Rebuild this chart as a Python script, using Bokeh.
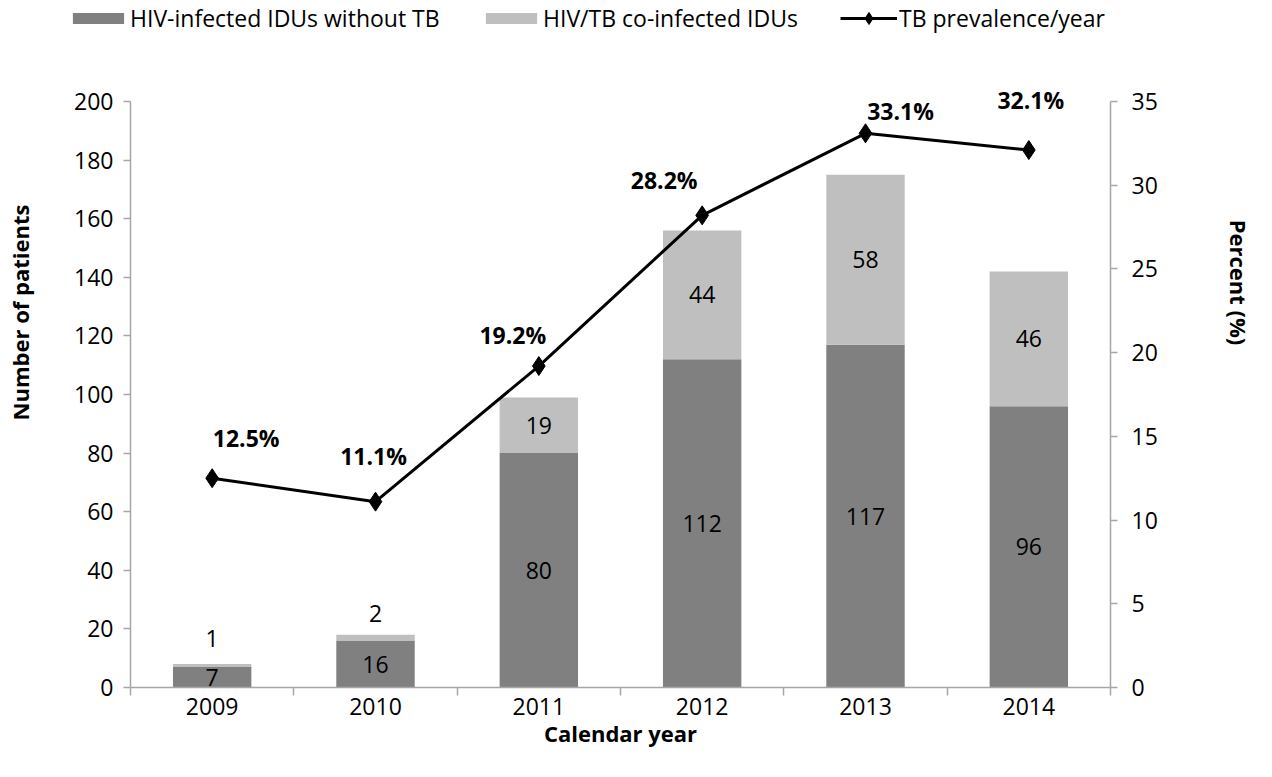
from bokeh.plotting import figure
from bokeh.layouts import column, row
from bokeh.models import (ColumnDataSource, Range1d, LinearAxis, FixedTicker,
                          Legend, LegendItem)
from bokeh.core.properties import value
from bokeh.embed import file_html
from bokeh.resources import INLINE

# ---- data ----
years = ["2009", "2010", "2011", "2012", "2013", "2014"]
without_tb = [7, 16, 80, 112, 117, 96]
coinfected = [1, 2, 19, 44, 58, 46]
tb_prevalence = [12.5, 11.1, 19.2, 28.2, 33.1, 32.1]
pct_labels = ["12.5%", "11.1%", "19.2%", "28.2%", "33.1%", "32.1%"]
legend_labels = ["HIV-infected IDUs without TB", "HIV/TB co-infected IDUs",
                 "TB prevalence/year"]

# ---- layout-only offsets for labels (pixels) ----
pct_dx = [34, -2, -26, -38, 35, 2]
pct_dy = [-40, -46, -31, -35, -22, -50]
small_dy = [-26, -21]

FONT = "Open Sans"
DARK = "#808080"
LIGHT = "#bfbfbf"
AXIS = "#a6a6a6"

n = len(years)
xc = [i + 0.5 for i in range(n)]
tops = [a + b for a, b in zip(without_tb, coinfected)]

src = ColumnDataSource(dict(
    x=xc, dark=without_tb, light=coinfected, top=tops,
    dark_mid=[v / 2 for v in without_tb],
    dark_txt=[str(v) for v in without_tb],
    pct=tb_prevalence, pct_txt=pct_labels, dx=pct_dx, dy=pct_dy,
))

# ---- layout (pixels) ----
W, H = 1256, 761
LS_W, RS_W = 44, 46            # side strips holding the axis titles
CW = W - LS_W - RS_W           # centre column width
LEG_H = 40
MH = H - LEG_H
AX_TOP, AX_BOTTOM = 101 - LEG_H, 687 - LEG_H   # where 200 / 0 sit
PAD = 28
frame_top = AX_TOP - PAD
LMAX, RMAX = 200, 35
ppu_l = (AX_BOTTOM - AX_TOP) / LMAX
ppu_r = (AX_BOTTOM - AX_TOP) / RMAX

p = figure(width=CW, height=MH, output_backend="svg", toolbar_location=None,
           x_range=Range1d(0, n), y_range=Range1d(0, LMAX + PAD / ppu_l),
           min_border_left=130 - LS_W, min_border_right=LS_W + CW - 1110,
           min_border_top=frame_top, min_border_bottom=MH - AX_BOTTOM)
p.extra_y_ranges = {"pct": Range1d(0, RMAX + PAD / ppu_r)}
p.outline_line_color = None
p.xgrid.visible = False
p.ygrid.visible = False

bw = 0.48
p.vbar(x="x", bottom=0, top="dark", width=bw, source=src,
       fill_color=DARK, line_color=None)
p.vbar(x="x", bottom="dark", top="top", width=bw, source=src,
       fill_color=LIGHT, line_color=None)
p.line(x="x", y="pct", source=src, y_range_name="pct",
       line_color="black", line_width=3)
p.scatter(x="x", y="pct", source=src, y_range_name="pct",
          marker="diamond", size=19, fill_color="black", line_color="black")

# bar labels
LBL = "23px"
p.text(x="x", y="dark_mid", text="dark_txt", source=src,
       text_align="center", text_baseline="middle",
       text_font=value(FONT), text_font_size=LBL, text_color="black")
big = [i for i in range(n) if coinfected[i] >= 5]
small = [i for i in range(n) if coinfected[i] < 5]
bsrc = ColumnDataSource(dict(
    x=[xc[i] for i in big],
    y=[without_tb[i] + coinfected[i] / 2 for i in big],
    t=[str(coinfected[i]) for i in big]))
p.text(x="x", y="y", text="t", source=bsrc, text_align="center",
       text_baseline="middle", text_font=value(FONT), text_font_size=LBL,
       text_color="black")
ssrc = ColumnDataSource(dict(x=[xc[i] for i in small],
                             y=[tops[i] for i in small],
                             t=[str(coinfected[i]) for i in small],
                             dy=small_dy[:len(small)]))
p.text(x="x", y="y", text="t", source=ssrc, text_align="center",
       text_baseline="middle", y_offset="dy", text_font=value(FONT),
       text_font_size=LBL, text_color="black")

# percent labels
p.text(x="x", y="pct", text="pct_txt", source=src, y_range_name="pct",
       x_offset="dx", y_offset="dy", text_align="center",
       text_baseline="middle", text_font=value(FONT),
       text_font_style="bold", text_font_size="23px", text_color="black")

# ---- axes ----
def style_axis(ax):
    ax.axis_line_color = AXIS
    ax.axis_line_width = 1.5
    ax.major_tick_line_color = AXIS
    ax.major_tick_line_width = 1.5
    ax.minor_tick_line_color = AXIS
    ax.minor_tick_line_width = 1.5
    ax.major_label_text_font = FONT
    ax.major_label_text_font_size = "23px"
    ax.major_label_text_color = "black"
    ax.axis_label_text_font = FONT
    ax.axis_label_text_font_style = "bold"
    ax.axis_label_text_font_size = "22px"
    ax.axis_label_text_color = "black"

xa = p.xaxis[0]
xa.ticker = FixedTicker(ticks=xc, minor_ticks=list(range(n + 1)))
xa.major_label_overrides = {x: y for x, y in zip(xc, years)}
style_axis(xa)
xa.major_tick_out = 8
xa.major_tick_in = 0
xa.major_tick_line_color = None
xa.minor_tick_out = 8
xa.minor_tick_in = 0
xa.axis_label = "Calendar year"
xa.major_label_standoff = 2
xa.axis_label_standoff = 0

ya = p.yaxis[0]
ya.ticker = FixedTicker(ticks=list(range(0, LMAX + 1, 20)))
ya.bounds = (0, LMAX)
style_axis(ya)
ya.major_tick_out = 7
ya.major_tick_in = 0
ya.minor_tick_out = 0
ya.minor_tick_in = 0
ya.major_label_standoff = 10

ra = LinearAxis(y_range_name="pct",
                ticker=FixedTicker(ticks=list(range(0, RMAX + 1, 5))),
                bounds=(0, RMAX))
style_axis(ra)
ra.major_tick_out = 7
ra.major_tick_in = 0
ra.minor_tick_out = 0
ra.minor_tick_in = 0
ra.major_label_standoff = 14
p.add_layout(ra, "right")

# ---- side strips carrying the axis titles ----
def title_strip(width, side, label, center_y, outer, standoff):
    kw = dict(width=width, height=H, output_backend="svg",
              toolbar_location=None, x_range=Range1d(0, 1),
              y_range=Range1d(0, 1), x_axis_location=None,
              y_axis_location=side, min_border_top=0,
              min_border_bottom=H - 2 * center_y)
    if side == "left":
        kw.update(min_border_left=outer, min_border_right=0)
    else:
        kw.update(min_border_right=outer, min_border_left=0)
    s = figure(**kw)
    s.grid.visible = False
    s.outline_line_color = None
    ax = s.yaxis[0]
    ax.ticker = FixedTicker(ticks=[])
    ax.axis_line_color = None
    ax.major_tick_out = 0
    ax.minor_tick_out = 0
    ax.major_tick_in = 0
    ax.minor_tick_in = 0
    ax.axis_label = label
    ax.axis_label_standoff = standoff
    ax.axis_label_text_font = FONT
    ax.axis_label_text_font_style = "bold"
    ax.axis_label_text_font_size = "22px"
    ax.axis_label_text_color = "black"
    return s

ls = title_strip(LS_W, "left", "Number of patients", 312, 40, 6)
rs = title_strip(RS_W, "right", "Percent (%)", 282, 35, 10)

# ---- legend strip above the chart ----
lg = figure(width=CW, height=LEG_H, output_backend="svg", toolbar_location=None,
            x_range=Range1d(-20, -19), y_range=Range1d(-20, -19),
            x_axis_location=None, y_axis_location=None,
            min_border_left=0, min_border_right=0,
            min_border_top=0, min_border_bottom=0)
lg.grid.visible = False
lg.outline_line_color = None
# stand-in renderers (outside the strip's visible range) carrying the styles
e_dark = lg.vbar(x="x", top="dark", width=bw, source=src,
                 fill_color=DARK, line_color=None)
e_light = lg.vbar(x="x", top="light", width=bw, source=src,
                  fill_color=LIGHT, line_color=None)
e_line = lg.line(x="x", y="pct", source=src, line_color="black", line_width=3)
e_pts = lg.scatter(x="x", y="pct", source=src, marker="diamond", size=12,
                   fill_color="black", line_color="black")

def make_legend(label, rends, x, gw, gh, standoff):
    L = Legend(items=[LegendItem(label=label, renderers=rends)],
               location=(x - LS_W, 6), orientation="horizontal")
    L.glyph_width = gw
    L.glyph_height = gh
    L.label_standoff = standoff
    L.padding = 0
    L.margin = 0
    L.spacing = 0
    L.border_line_color = None
    L.background_fill_alpha = 0
    L.label_text_font = FONT
    L.label_text_font_size = "23px"
    L.label_text_color = "black"
    lg.add_layout(L, "center")

make_legend(legend_labels[0], [e_dark], 66, 64, 14, 0)
make_legend(legend_labels[1], [e_light], 479, 64, 14, 0)
make_legend(legend_labels[2], [e_line, e_pts], 840, 57, 30, 2)

for fig in (lg, p, ls, rs):
    if "frame_align" in fig.properties():
        fig.frame_align = False

layout = row(ls, column(lg, p, spacing=0), rs, spacing=0)
open("out.html", "w").write(file_html(layout, INLINE))
